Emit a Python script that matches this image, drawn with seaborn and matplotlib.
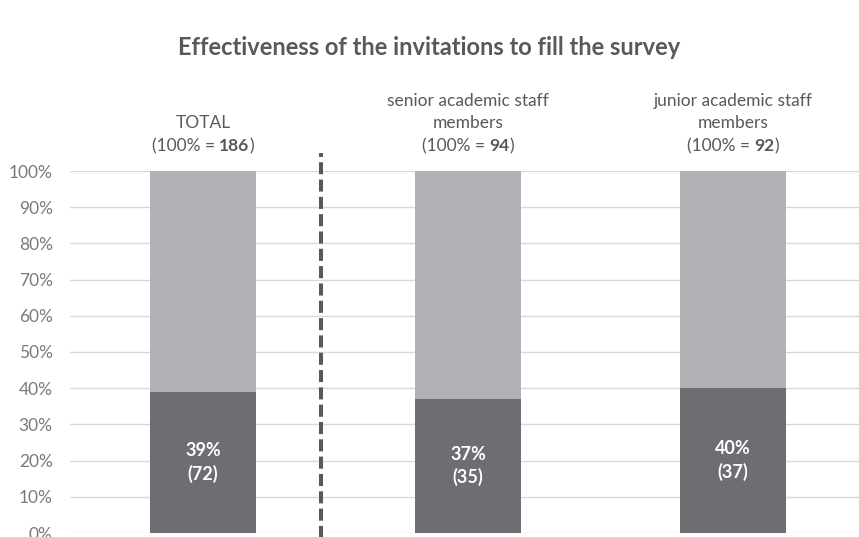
import matplotlib
matplotlib.use("Agg")
import matplotlib.pyplot as plt
import seaborn as sns
import pandas as pd

# Survey response data
groups = ["TOTAL", "senior academic staff\nmembers", "junior academic staff\nmembers"]
responded_pct = [39, 37, 40]
responded_n = [72, 35, 37]
group_total = [186, 94, 92]
y_ticks = [0, 10, 20, 30, 40, 50, 60, 70, 80, 90, 100]

DARK = "#6d6e72"
LIGHT = "#b1b2b5"
TEXT = "#595959"
TICK = "#7a7a7a"
GRID = "#d9d9d9"

sns.set_theme(style="white")
plt.rcParams["font.family"] = ["Lato", "DejaVu Sans"]

df = pd.DataFrame({
    "group": groups,
    "full": [100] * len(groups),
    "pct": responded_pct,
})

fig = plt.figure(figsize=(8.59, 5.37), dpi=100)
ax = fig.add_axes([70 / 859, 4 / 537, 789 / 859, 362 / 537])

sns.barplot(data=df, x="group", y="full", color=LIGHT, width=0.4,
            saturation=1, edgecolor="none", linewidth=0, ax=ax, zorder=2)
sns.barplot(data=df, x="group", y="pct", color=DARK, width=0.4,
            saturation=1, edgecolor="none", linewidth=0, ax=ax, zorder=3)

ax.set_ylim(0, 100)
ax.set_xlim(-0.502, 2.475)
ax.set_yticks(y_ticks)
ax.set_yticklabels([f"{t}%" for t in y_ticks], color=TICK, fontsize=12.5)
ax.tick_params(axis="y", length=0, pad=12.5)
ax.set_xticks([])
ax.set_xlabel("")
ax.set_ylabel("")
for s in ax.spines.values():
    s.set_visible(False)
ax.grid(axis="y", color=GRID, linewidth=1, zorder=0)
ax.set_axisbelow(True)

# Value labels inside the dark segments
for i, (p, n) in enumerate(zip(responded_pct, responded_n)):
    ax.text(i, p / 2, f"{p}%\n({n})", ha="center", va="center",
            color="white", fontsize=13, fontweight="bold",
            linespacing=1.35, zorder=5)

# Dashed separator between TOTAL and the subgroups
ax.plot([0.445, 0.445], [-5, 105], color=TEXT, linewidth=2.9,
        linestyle=(0, (3.0, 1.3)), clip_on=False, zorder=4)

# Group headers above the bars, with the base count in bold
fig.canvas.draw()
renderer = fig.canvas.get_renderer()


def header(x, y_px, pieces):
    """Draw a line of text pieces centred on data-x at figure pixel height y_px."""
    objs = []
    for txt, w in pieces:
        t = fig.text(0, 0, txt, fontsize=12.5, color=TEXT, fontweight=w,
                     va="baseline", ha="left")
        objs.append(t)
    widths = [o.get_window_extent(renderer).width for o in objs]
    total = sum(widths)
    xc = ax.transData.transform((x, 0))[0]
    cur = xc - total / 2
    for o, wd in zip(objs, widths):
        o.set_position((cur / fig.bbox.width, 1 - y_px / fig.bbox.height))
        cur += wd


for i, (g, tot) in enumerate(zip(groups, group_total)):
    lines = g.split("\n")
    base = 151
    n_lines = len(lines)
    for j, line in enumerate(lines):
        header(i, base - (n_lines - j) * 22.5, [(line, "normal")])
    header(i, base, [("(100% = ", "normal"), (str(tot), "bold"), (")", "normal")])

fig.text(0.5, 1 - 55 / 537, "Effectiveness of the invitations to fill the survey",
         ha="center", va="baseline", fontsize=17, fontweight="bold", color=TEXT)

fig.savefig("out.png", dpi=100, facecolor="white")
